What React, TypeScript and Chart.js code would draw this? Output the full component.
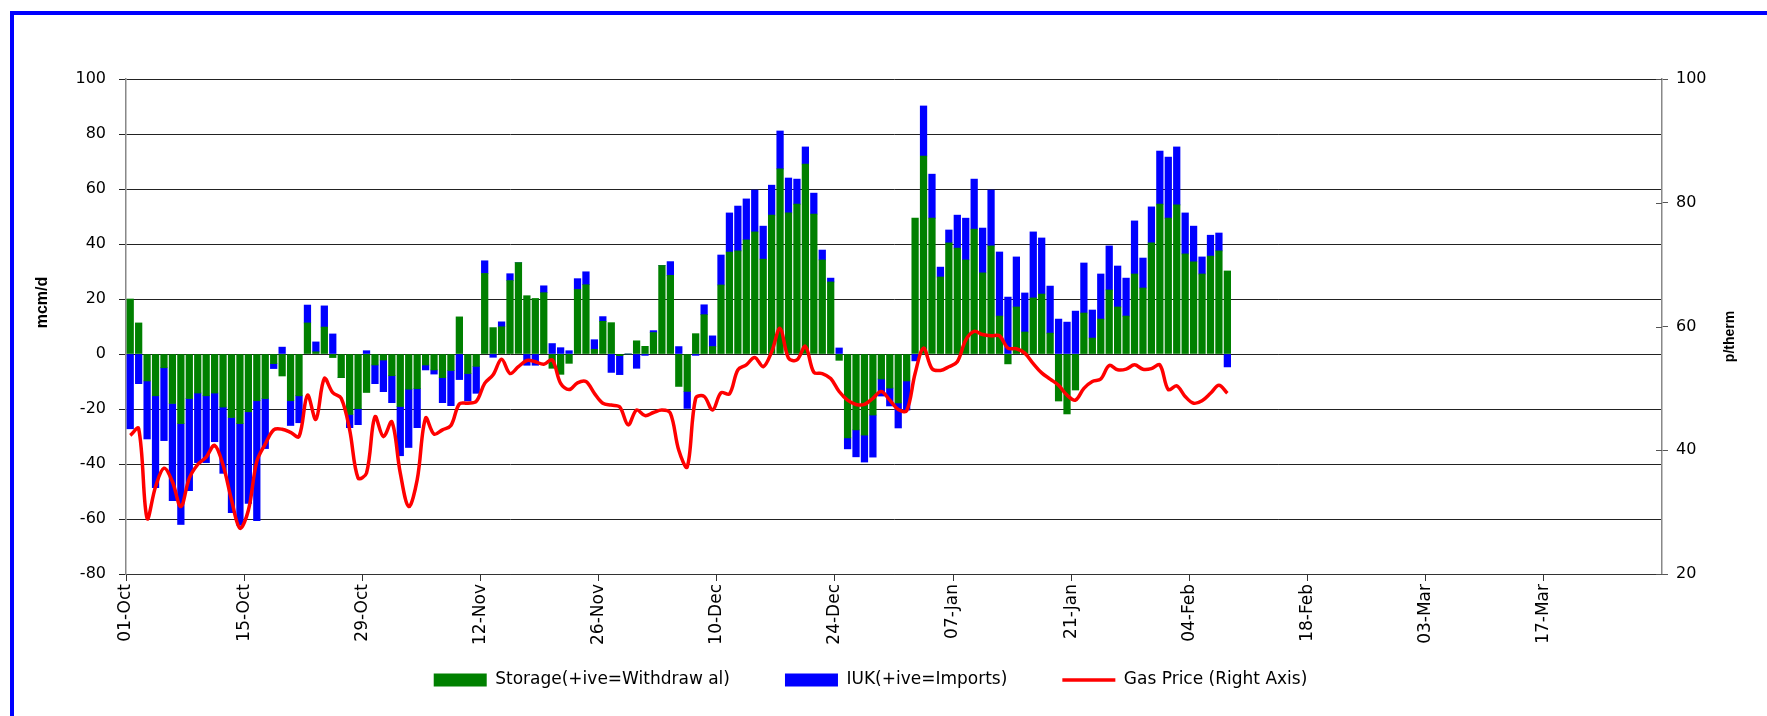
import React, { useEffect, useRef } from 'react';
import { Chart, registerables } from 'chart.js';

Chart.register(...registerables);

// Tick labels on the date axis (every 14 days from 01-Oct)
const tickLabels = ['01-Oct', '15-Oct', '29-Oct', '12-Nov', '26-Nov', '10-Dec', '24-Dec', '07-Jan', '21-Jan', '04-Feb', '18-Feb', '03-Mar', '17-Mar'];
const daysShown = 182; // 01-Oct .. end of March

// Storage (+ive = withdrawal), mcm/d, daily from 01-Oct
const storage = [
  20, 11.3, -9.8, -15.2, -5, -18, -25.3, -16.2, -14.2, -15.2,
  -14.2, -19.3, -23.1, -25.3, -21, -17, -16.2, -3.5, -8, -17,
  -15.2, 11.3, 0.8, 9.8, -1.3, -8.6, -22, -19.9, -14, -4,
  -2.2, -7.9, -19.1, -12.8, -12.6, -4, -5.8, -8.6, -6, 13.5,
  -7.1, -4.5, 29.3, 9.6, 9.9, 26.7, 33.2, 21.2, 20.2, 22.3,
  -5.2, -7.4, -3.4, 23.5, 25.2, 1.7, 11.9, 11.4, -0.6, 0,
  4.8, 2.8, 7.8, 32.2, 28.6, -11.8, -13.6, 7.4, 14.3, 2.7,
  25.1, 37.1, 37.5, 41.5, 44.4, 34.5, 50.5, 67.3, 51.3, 54.5,
  69.1, 50.9, 34.2, 26.2, -2.3, -30.5, -27.6, -29.5, -22.2, -9.1,
  -12.4, -17.8, -9.8, 49.4, 72, 49.4, 28, 40.4, 38.5, 34.2,
  45.4, 29.5, 39.3, 13.8, -3.6, 17.1, 8, 20.4, 21.8, 7.6,
  -17.1, -21.8, -13.1, 14.9, 5.8, 12.7, 23.3, 17.1, 13.8, 29.1,
  24, 40.4, 54.5, 49.4, 54.2, 36.4, 33.5, 29.1, 35.6, 37.5,
  30.2,
];

// IUK (+ive = imports), mcm/d
const iuk = [
  -27.2, -10.8, -21.1, -33.4, -26.5, -35.3, -36.7, -33.5, -25.3, -24.3,
  -17.7, -24.1, -34.6, -37, -33.3, -43.6, -18.2, -1.8, 2.5, -9,
  -9.8, 6.5, 3.6, 7.7, 7.3, 0, -4.8, -5.8, 1.2, -6.8,
  -11.5, -9.8, -17.9, -21.2, -14.2, -1.8, -1.5, -9.1, -12.8, -9.3,
  -10, -9.8, 4.6, -1.2, 1.8, 2.5, 0, -4.1, -4.1, 2.5,
  3.8, 2.3, 1.2, 3.9, 4.7, 3.5, 1.7, -6.7, -6.9, 0,
  -5.2, -0.5, 0.7, 0, 5, 2.7, -6.2, -0.5, 3.6, 3.9,
  10.9, 14.2, 16.3, 14.9, 15.2, 12, 10.9, 13.8, 12.7, 9.1,
  6.2, 7.6, 3.6, 1.4, 2.2, -4, -9.8, -9.8, -15.3, -6.2,
  -6.5, -9.1, -10.6, -2.5, 18.2, 16, 3.6, 4.7, 12, 15.2,
  18.2, 16.3, 20.3, 23.3, 20.7, 18.2, 14.2, 24, 20.4, 17.1,
  12.7, 11.6, 15.6, 18.2, 10.2, 16.4, 16, 14.9, 13.8, 19.3,
  10.9, 13.1, 19.3, 22.2, 21.1, 14.9, 13, 6.2, 7.6, 6.5,
  -4.7,
];

// Gas price, p/therm (right axis)
const gasPrice = [
  42.4, 43.5, 29, 34.1, 37.1, 34.9, 30.9, 35.5, 37.7, 38.9,
  40.8, 37.6, 32, 27.4, 30.3, 38.2, 41, 43.3, 43.4, 42.9,
  42.2, 48.9, 45, 51.6, 49.3, 48.4, 43.3, 35.5, 36.3, 45.4,
  42.2, 44.6, 36.3, 30.9, 35.2, 45.2, 42.6, 43.3, 44, 47.5,
  47.6, 47.9, 50.8, 52.2, 54.7, 52.4, 53.5, 54.5, 54.3, 53.9,
  54.6, 50.8, 49.8, 50.9, 51.1, 49.2, 47.6, 47.3, 47, 44.1,
  46.5, 45.6, 46.1, 46.5, 46, 40, 37.3, 48.4, 48.7, 46.5,
  49.3, 49.1, 53, 53.8, 55, 53.5, 55.9, 59.7, 54.9, 54.6,
  56.8, 52.6, 52.4, 51.6, 49.5, 48.1, 47.4, 47.4, 48.4, 49.5,
  48.1, 46.6, 46.4, 52.4, 56.5, 53.2, 52.9, 53.5, 54.3, 57.8,
  59.2, 58.7, 58.5, 58.5, 56.5, 56.4, 55.7, 54, 52.5, 51.5,
  50.5, 48.9, 48.1, 50, 51.1, 51.5, 53.7, 53, 53.1, 53.8,
  53.1, 53.2, 53.8, 49.8, 50.4, 48.7, 47.6, 48, 49.2, 50.5,
  49.2,
];

const seriesLabels = ['Storage(+ive=Withdraw al)', 'IUK(+ive=Imports)', 'Gas Price (Right Axis)'];
const GREEN = '#008000';
const BLUE = '#0000FF';
const RED = '#FF0000';
const FONT = '"DejaVu Sans", "Liberation Sans", Arial, sans-serif';

const asPoints = (vals: number[]) => vals.map((v, i) => ({ x: i + 0.5, y: v }));

const framePlugin = {
  id: 'frameAndTitles',
  afterLayout(chart: any) {
    const lg = chart.legend;
    if (lg) {
      lg.top = 616.5;
      lg.bottom = chart.height;
      lg.height = lg.bottom - lg.top;
    }
  },
  beforeDraw(chart: any) {
    const { ctx, width, height } = chart;
    ctx.save();
    ctx.fillStyle = '#ffffff';
    ctx.fillRect(0, 0, width, height);
    ctx.fillStyle = BLUE;
    ctx.fillRect(10, 11, width - 10, 4);
    ctx.fillRect(10, 11, 4, height - 11);
    ctx.restore();
  },
  afterDraw(chart: any) {
    const { ctx, chartArea } = chart;
    const midY = (chartArea.top + chartArea.bottom) / 2;
    // inner half of the cross tick marks on the right axis
    const y1 = chart.scales.y1;
    if (y1) {
      ctx.save();
      ctx.strokeStyle = '#555';
      ctx.lineWidth = 1;
      for (const t of y1.ticks) {
        const py = Math.round(y1.getPixelForValue(t.value)) + 0.5;
        ctx.beginPath();
        ctx.moveTo(chartArea.right - 6, py);
        ctx.lineTo(chartArea.right, py);
        ctx.stroke();
      }
      ctx.restore();
    }
    ctx.save();
    ctx.fillStyle = '#000';
    ctx.font = 'bold 16px "Liberation Sans", Arial, sans-serif';
    ctx.textAlign = 'center';
    ctx.textBaseline = 'middle';
    ctx.translate(43, midY - 24);
    ctx.rotate(-Math.PI / 2);
    ctx.fillText('mcm/d', 0, 0);
    ctx.restore();
    ctx.save();
    ctx.fillStyle = '#000';
    ctx.font = 'bold 14px "Liberation Sans", Arial, sans-serif';
    ctx.textAlign = 'center';
    ctx.textBaseline = 'middle';
    ctx.translate(1730, midY + 10);
    ctx.rotate(-Math.PI / 2);
    ctx.fillText('p/therm', 0, 0);
    ctx.restore();
  },
};

export default function App() {
  const canvasRef = useRef<HTMLCanvasElement | null>(null);

  useEffect(() => {
    const canvas = canvasRef.current;
    if (!canvas) return;
    const tickDays = tickLabels.map((_, k) => k * 14);
    const colors = [GREEN, BLUE, RED];

    const chart = new Chart(canvas, {
      type: 'bar',
      data: {
        datasets: [
          {
            type: 'bar',
            label: seriesLabels[0],
            data: asPoints(storage),
            backgroundColor: GREEN,
            borderWidth: 0,
            barThickness: 6.6,
            yAxisID: 'y',
            order: 1,
          } as any,
          {
            type: 'bar',
            label: seriesLabels[1],
            data: asPoints(iuk),
            backgroundColor: BLUE,
            borderWidth: 0,
            barThickness: 6.6,
            yAxisID: 'y',
            order: 1,
          } as any,
          {
            type: 'line',
            label: seriesLabels[2],
            data: asPoints(gasPrice),
            borderColor: RED,
            backgroundColor: RED,
            borderWidth: 3.5,
            pointRadius: 0,
            tension: 0.35,
            yAxisID: 'y1',
            order: 0,
          } as any,
        ],
      },
      options: {
        animation: false,
        responsive: false,
        devicePixelRatio: 1,
        layout: { padding: { top: 79, left: 0, right: 26, bottom: 7 } },
        plugins: {
          tooltip: { enabled: false },
          legend: {
            position: 'bottom',
            maxHeight: 60,
            labels: {
              usePointStyle: true,
              pointStyleWidth: 53,
              boxHeight: 13,
              padding: 55,
              color: '#000',
              font: { family: FONT, size: 17 },
              generateLabels: (c: any) => {
                const base = (Chart.defaults.plugins.legend.labels as any).generateLabels(c);
                return base
                  .map((it: any) => ({
                    ...it,
                    pointStyle: it.datasetIndex === 2 ? 'line' : 'rect',
                    lineWidth: it.datasetIndex === 2 ? 3.5 : 0,
                    strokeStyle: colors[it.datasetIndex],
                    fillStyle: colors[it.datasetIndex],
                  }))
                  .sort((a: any, b: any) => a.datasetIndex - b.datasetIndex);
              },
            },
          },
        },
        scales: {
          x: {
            type: 'linear',
            stacked: true,
            offset: false,
            min: 0,
            max: daysShown,
            afterBuildTicks: (s: any) => {
              s.ticks = tickDays.map((v) => ({ value: v }));
            },
            afterFit: (s: any) => {
              s.height = 75;
            },
            ticks: {
              autoSkip: false,
              maxRotation: 90,
              minRotation: 90,
              padding: 3,
              color: '#000',
              font: { family: FONT, size: 17 },
              callback: (v: any) => tickLabels[tickDays.indexOf(Number(v))] ?? '',
            },
            grid: { drawOnChartArea: false, offset: false, tickLength: 7, color: '#333' },
            border: { color: '#333', width: 1 },
          },
          y: {
            type: 'linear',
            position: 'left',
            stacked: true,
            min: -80,
            max: 100,
            afterFit: (s: any) => {
              s.width = 126;
            },
            ticks: {
              stepSize: 20,
              padding: 13,
              color: '#000',
              font: { family: FONT, size: 16 },
            },
            grid: { color: '#222', lineWidth: 1, tickLength: 7 },
            border: { color: '#888', width: 1.5 },
          },
          y1: {
            type: 'linear',
            position: 'right',
            min: 20,
            max: 100,
            afterFit: (s: any) => {
              s.width = 79;
            },
            ticks: {
              stepSize: 20,
              padding: 8,
              color: '#000',
              font: { family: FONT, size: 16 },
            },
            grid: { drawOnChartArea: false, tickLength: 6, color: '#555' },
            border: { color: '#888', width: 1.5 },
          },
        },
      },
      plugins: [framePlugin],
    } as any);

    return () => {
      chart.destroy();
    };
  }, []);

  return (
    <div style={{ position: 'absolute', left: 0, top: 0, width: 1767, height: 716, overflow: 'hidden', background: '#fff' }}>
      <canvas ref={canvasRef} width={1767} height={716} style={{ display: 'block', width: 1767, height: 716 }} />
    </div>
  );
}
